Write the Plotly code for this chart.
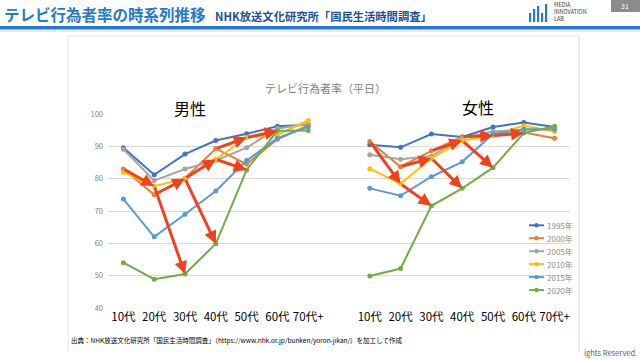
import plotly.graph_objects as go

# ---------------- data ----------------
age_labels = ["10代", "20代", "30代", "40代", "50代", "60代", "70代+"]
years = ["1995年", "2000年", "2005年", "2010年", "2015年", "2020年"]
colors = ["#4472C4", "#ED7D31", "#A5A5A5", "#FFC000", "#5B9BD5", "#70AD47"]

male_1995 = [89.6, 81.2, 87.6, 91.8, 93.9, 96.2, 96.7]
male_2000 = [83.0, 75.0, 80.1, 89.3, 84.5, 92.2, 96.5]
male_2005 = [89.1, 79.4, 83.0, 85.6, 89.6, 95.5, 96.9]
male_2010 = [82.0, 77.7, 80.0, 86.0, 92.7, 93.6, 98.0]
male_2015 = [73.7, 62.0, 69.0, 76.2, 85.6, 92.5, 96.0]
male_2020 = [54.0, 48.9, 50.5, 59.9, 82.7, 94.8, 94.9]

female_1995 = [90.5, 89.7, 93.8, 92.9, 96.0, 97.4, 96.0]
female_2000 = [91.5, 83.7, 88.6, 93.0, 93.3, 94.3, 92.5]
female_2005 = [87.4, 86.0, 87.0, 92.5, 94.6, 95.1, 95.3]
female_2010 = [83.1, 78.4, 86.3, 91.8, 93.3, 96.4, 94.6]
female_2015 = [77.0, 74.7, 80.6, 85.2, 93.8, 95.3, 95.3]
female_2020 = [49.9, 52.2, 71.6, 77.0, 83.4, 94.1, 96.2]

male = [male_1995, male_2000, male_2005, male_2010, male_2015, male_2020]
female = [female_1995, female_2000, female_2005, female_2010, female_2015, female_2020]

y_ticks = [40, 50, 60, 70, 80, 90, 100]

# combined category axis: male 0-6, blank 7, female 8-14
tick_text = age_labels + [""] + age_labels
x_idx = list(range(len(tick_text)))

# ---------------- layout geometry (pixels) ----------------
W, H = 640, 360
ML, MR, MT, MB = 108, 70, 114, 52
PW, PH = W - ML - MR, H - MT - MB


def px(x):
    return (x - ML) / PW


def py(y):
    return (H - MB - y) / PH


fig = go.Figure()

for name, col, m, f in zip(years, colors, male, female):
    fig.add_trace(go.Scatter(
        x=x_idx, y=m + [None] + f, mode="lines+markers", name=name,
        line=dict(color=col, width=2), marker=dict(color=col, size=5),
        connectgaps=False, showlegend=False, hoverinfo="skip"))

annotations = []
shapes = []

# cohort arrows: 2000 -> 2010 -> 2020 (age +1 bracket per 10 years)
red = "#F2411D"
chain = [1, 3, 5]  # indices of 2000, 2010, 2020
for offset, panel in ((0, male), (8, female)):
    for a in range(4):
        for k in range(2):
            s_year, e_year = chain[k], chain[k + 1]
            s_age, e_age = a + k, a + k + 1
            annotations.append(dict(
                x=offset + e_age, y=panel[e_year][e_age],
                ax=offset + s_age, ay=panel[s_year][s_age],
                xref="x", yref="y", axref="x", ayref="y",
                text="", showarrow=True, arrowhead=2, arrowsize=0.85,
                arrowwidth=3, arrowcolor=red, standoff=0, startstandoff=0))


def txt(x, y, text, size, color, xanchor="center", **kw):
    d = dict(x=px(x), y=py(y), xref="paper", yref="paper", text=text,
             xanchor=xanchor, yanchor="middle", showarrow=False, borderpad=0,
             font=dict(size=size, color=color))
    d.update(kw)
    return d


# chart texts
annotations += [
    txt(325, 88, "テレビ行為者率（平日）", 11, "#7F7F7F"),
    txt(189.5, 108, "男性", 16, "#000000"),
    txt(478, 107, "女性", 16, "#000000"),
]

# custom legend
leg_y0, leg_dy = 225.3, 12.95
for i, (name, col) in enumerate(zip(years, colors)):
    yy = leg_y0 + i * leg_dy
    shapes.append(dict(type="line", xref="paper", yref="paper",
                       x0=px(529), x1=px(544), y0=py(yy), y1=py(yy),
                       line=dict(color=col, width=2)))
    shapes.append(dict(type="circle", xref="paper", yref="paper",
                       x0=px(534.3), x1=px(538.7), y0=py(yy - 2.2), y1=py(yy + 2.2),
                       fillcolor=col, line=dict(width=0)))
    annotations.append(txt(546, yy, name, 8, "#8C8C8C", xanchor="left"))

# slide header / footer
annotations += [
    txt(3, 14, "<b>テレビ行為者率の時系列推移</b>", 15.5, "#2478CF", xanchor="left"),
    txt(214, 16, "<b>NHK放送文化研究所「国民生活時間調査」</b>", 11.3, "#1F4E9C", xanchor="left"),
    txt(553, 11.5, "MEDIA<br>INNOVATION<br>LAB", 5.5, "#404040", xanchor="left", align="left"),
    txt(625, 6, "31", 7, "#FFFFFF"),
    txt(70, 340, "出典：NHK放送文化研究所「国民生活時間調査」（https://www.nhk.or.jp/bunken/yoron-jikan/）を加工して作成",
        6.5, "#000000", xanchor="left"),
    txt(638, 352, "ights Reserved.", 7.5, "#595959", xanchor="right"),
]

shapes += [
    dict(type="rect", xref="paper", yref="paper", x0=px(0), x1=px(640), y0=py(26), y1=py(29.5),
         fillcolor="#2478CF", line=dict(width=0)),
    dict(type="rect", xref="paper", yref="paper", x0=px(0), x1=px(640), y0=py(30.5), y1=py(31.5),
         fillcolor="#C9D9EE", line=dict(width=0)),
    dict(type="rect", xref="paper", yref="paper", x0=px(611), x1=px(640), y0=py(0), y1=py(12),
         fillcolor="#8C8C8C", line=dict(width=0)),
    dict(type="line", xref="paper", yref="paper", x0=px(579), x1=px(579), y0=py(36), y1=py(352),
         line=dict(color="#D9D9D9", width=1)),
    dict(type="line", xref="paper", yref="paper", x0=px(68), x1=px(68), y0=py(36), y1=py(352),
         line=dict(color="#E6E6E6", width=1)),
    dict(type="line", xref="paper", yref="paper", x0=px(68), x1=px(579), y0=py(36), y1=py(36),
         line=dict(color="#E6E6E6", width=1)),
]
# logo bars
for bx, btop in ((529, 13), (533, 9), (537, 6), (541, 13), (545, 4)):
    shapes.append(dict(type="rect", xref="paper", yref="paper", x0=px(bx), x1=px(bx + 2.2),
                       y0=py(btop), y1=py(22), fillcolor="#2478CF", line=dict(width=0)))

fig.update_layout(
    width=W, height=H, margin=dict(l=ML, r=MR, t=MT, b=MB, autoexpand=False),
    paper_bgcolor="white", plot_bgcolor="white",
    font=dict(family="Noto Sans CJK JP, Noto Sans, sans-serif"),
    showlegend=False, annotations=annotations, shapes=shapes,
    xaxis=dict(range=[-0.5, len(tick_text) - 0.5], tickmode="array", tickvals=x_idx,
               ticktext=tick_text, showgrid=False, zeroline=False, showline=False,
               tickangle=0, automargin=False,
               tickfont=dict(size=11.5, color="#000000"), fixedrange=True),
    yaxis=dict(range=[40, 100], tickmode="array", tickvals=y_ticks, showgrid=True,
               gridcolor="#D9D9D9", gridwidth=1, zeroline=False, showline=False,
               automargin=False,
               tickfont=dict(size=7.5, color="#7F7F7F"), ticklabelstandoff=4,
               fixedrange=True),
)

fig.write_html("out.html", config={"displayModeBar": False},
               post_script="document.body.style.margin='0';document.body.style.overflow='hidden';")
